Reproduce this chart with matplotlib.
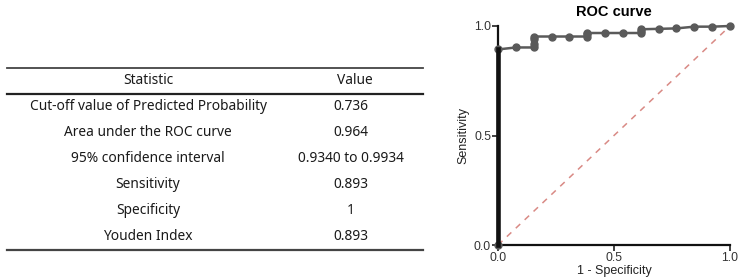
import matplotlib.pyplot as plt
import numpy as np

# table contents
stat_names = ["Cut-off value of Predicted Probability", "Area under the ROC curve",
              "95% confidence interval", "Sensitivity", "Specificity", "Youden Index"]
stat_values = ["0.736", "0.964", "0.9340 to 0.9934", "0.893", "1", "0.893"]

# ROC points
fpr = [0.0, 0.0, 0.077, 0.154, 0.154, 0.154, 0.154, 0.231, 0.308, 0.385, 0.385, 0.385,
       0.462, 0.538, 0.615, 0.615, 0.615, 0.692, 0.769, 0.846, 0.923, 1.0]
tpr = [0.0, 0.893, 0.902, 0.902, 0.92, 0.94, 0.952, 0.952, 0.952, 0.952, 0.962, 0.968,
       0.968, 0.968, 0.968, 0.978, 0.985, 0.987, 0.989, 0.997, 0.997, 1.0]

W, H = 741, 278
fig = plt.figure(figsize=(W / 100, H / 100), dpi=100)
plt.rcParams['font.family'] = ['Noto Sans', 'DejaVu Sans']

# --- table, drawn in pixel coords ---
tb = fig.add_axes([0, 0, 1, 1])
tb.set_xlim(0, W)
tb.set_ylim(H, 0)
tb.axis('off')
tcol = '#1a1a1a'
fs = 9.9
tb.plot([7, 423], [68, 68], color='#444444', lw=1.3)
tb.plot([7, 423], [94, 94], color='#222222', lw=1.6)
tb.plot([7, 423], [250, 250], color='#444444', lw=1.6)
tb.text(148, 81, "Statistic", ha='center', va='center', fontsize=fs, color=tcol)
tb.text(355, 81, "Value", ha='center', va='center', fontsize=fs, color=tcol)
for i, (n, v) in enumerate(zip(stat_names, stat_values)):
    yy = 107 + i * 26
    tb.text(148, yy, n, ha='center', va='center', fontsize=fs, color=tcol)
    tb.text(351, yy, v, ha='center', va='center', fontsize=fs, color=tcol)

# --- ROC curve ---
ax = fig.add_axes([498 / W, (H - 245) / H, 232 / W, 219 / H])
ax.plot([0, 1], [0, 1], color='#d98a85', lw=1.1, dashes=(4, 4))
ax.plot(fpr, tpr, color='#5a5a5a', lw=1.8, marker='o', ms=5, clip_on=False, zorder=3)
f0 = [t for f, t in zip(fpr, tpr) if f == 0]
ax.plot([0] * len(f0), f0, color='#111111', lw=3.3, clip_on=False, zorder=4)
ax.set_xlim(0, 1)
ax.set_ylim(0, 1)
ax.set_xticks([0, 0.5, 1.0])
ax.set_yticks([0, 0.5, 1.0])
ax.set_xticklabels(["0.0", "0.5", "1.0"])
ax.set_yticklabels(["0.0", "0.5", "1.0"])
for s in ['top', 'right']:
    ax.spines[s].set_visible(False)
for s in ['left', 'bottom']:
    ax.spines[s].set_linewidth(1.6)
    ax.spines[s].set_color('#111111')
ax.tick_params(length=4, width=1.3, labelsize=8.8, colors='#333333', pad=1)
ax.set_title("ROC curve", fontsize=10.5, fontweight='bold', pad=7,
             family=['Liberation Sans', 'DejaVu Sans'])
ax.set_xlabel("1 - Specificity", fontsize=9, labelpad=1, color='#222222',
              family=['Liberation Sans', 'DejaVu Sans'])
ax.set_ylabel("Sensitivity", fontsize=9, labelpad=3, color='#222222',
              family=['Liberation Sans', 'DejaVu Sans'])
for lab in ax.get_xticklabels() + ax.get_yticklabels():
    lab.set_family(['Liberation Sans', 'DejaVu Sans'])

fig.savefig('out.png', dpi=100)
